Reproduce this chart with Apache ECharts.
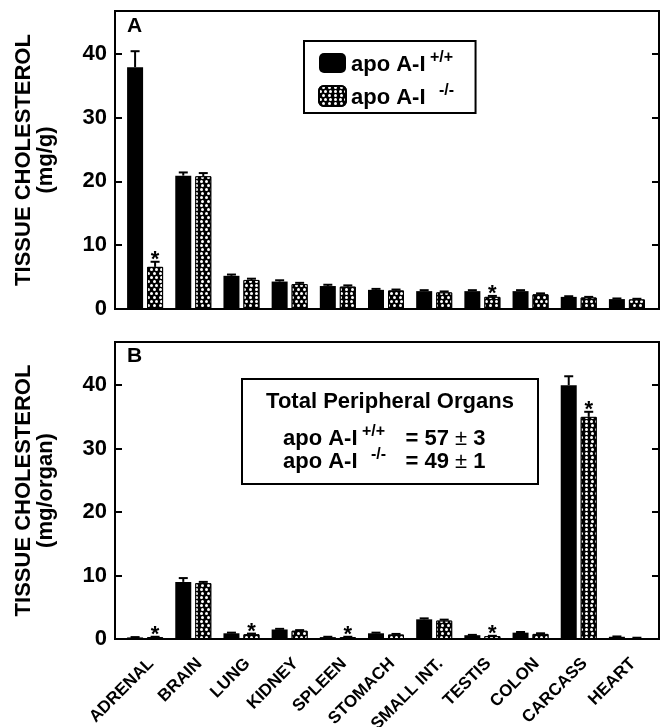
<!DOCTYPE html>
<html>
<head>
<meta charset="utf-8">
<script src="https://cdn.jsdelivr.net/npm/echarts@6/dist/echarts.min.js"></script>
<style>html,body{margin:0;padding:0;background:#fff}#c{width:661px;height:727px}</style>
</head>
<body>
<div id="c"></div>
<script>
// ---- data ----
const categories = ['ADRENAL','BRAIN','LUNG','KIDNEY','SPLEEN','STOMACH','SMALL INT.','TESTIS','COLON','CARCASS','HEART'];
const yTicks = [0, 10, 20, 30, 40];
// Panel A: tissue cholesterol (mg/g)
const A_wt     = [37.9, 20.9, 5.2, 4.3, 3.6, 3.0, 2.8, 2.8, 2.8, 1.9, 1.55];
const A_wtErr  = [2.5, 0.5, 0.2, 0.2, 0.2, 0.15, 0.15, 0.15, 0.15, 0.1, 0.1];
const A_ko     = [6.6, 20.8, 4.55, 3.9, 3.5, 2.9, 2.6, 1.9, 2.3, 1.8, 1.5];
const A_koErr  = [0.8, 0.5, 0.2, 0.2, 0.2, 0.15, 0.15, 0.15, 0.15, 0.1, 0.1];
const A_sig    = [1, 0, 0, 0, 0, 0, 0, 1, 0, 0, 0];
// Panel B: tissue cholesterol (mg/organ)
const B_wt     = [0.25, 9.0, 0.9, 1.5, 0.3, 0.9, 3.1, 0.6, 1.0, 40.0, 0.35];
const B_wtErr  = [0.05, 0.6, 0.1, 0.1, 0.05, 0.1, 0.15, 0.05, 0.1, 1.4, 0.05];
const B_ko     = [0.3, 8.8, 0.75, 1.3, 0.3, 0.7, 2.9, 0.45, 0.8, 35.0, 0.15];
const B_koErr  = [0.05, 0.2, 0.1, 0.1, 0.05, 0.1, 0.15, 0.05, 0.1, 0.8, 0.05];
const B_sig    = [1, 0, 1, 0, 1, 0, 0, 1, 0, 1, 0];

// ---- layout / style ----
const FONT = '"Liberation Sans", Arial, Helvetica, sans-serif';
const GRID_L = 121, GRID_W = 530;
const FRAME_L = 115, FRAME_R = 659;
const GA = {top: 11, height: 298, max: 46.7};
const GB = {top: 342, height: 297, max: 46.8};
const BAR_W = 16, BAR_GAP = 4, CAP = 9;

const koStyle = {
  color: '#000', borderColor: '#000', borderWidth: 1,
  decal: {symbol: 'circle', symbolSize: 1, color: '#fff',
          dashArrayX: [[3, 1.2], [0, 2.1, 3, 0]], dashArrayY: [3, 0.8], rotation: 0}
};
const wtStyle = {color: '#000'};

function errRenderer(sign) {
  return function (params, api) {
    const i = api.value(0), v = api.value(1), e = api.value(2), s = api.value(3);
    const base = api.coord([i, v]);
    const top = api.coord([i, v + e]);
    const x = base[0] + sign * (BAR_W + BAR_GAP) / 2;
    const ch = [
      {type: 'line', shape: {x1: x, y1: base[1], x2: x, y2: top[1]}, style: {stroke: '#000', lineWidth: 2}},
      {type: 'line', shape: {x1: x - CAP / 2, y1: top[1], x2: x + CAP / 2, y2: top[1]}, style: {stroke: '#000', lineWidth: 2}}
    ];
    if (s) {
      ch.push({type: 'text', style: {text: '*', x: x, y: top[1] - 2, align: 'center', verticalAlign: 'middle',
        font: 'bold 22px ' + FONT, fill: '#000'}});
    }
    return {type: 'group', children: ch};
  };
}
function errData(v, e, s) { return v.map((d, i) => [i, d, e[i], s ? s[i] : 0]); }

function yAx(gi, name, max, pos) {
  const left = pos === 'left';
  return {
    type: 'value', gridIndex: gi, position: pos, min: 0, max: max, interval: 10,
    offset: left ? (GRID_L - FRAME_L) : (FRAME_R - GRID_L - GRID_W),
    axisLine: {show: false},
    axisTick: {show: true, inside: true, length: 7, lineStyle: {color: '#000', width: 2}},
    splitLine: {show: false},
    axisLabel: {show: left, showMaxLabel: false, margin: 8, color: '#000', fontFamily: FONT, fontWeight: 'bold', fontSize: 22,
      formatter: v => (yTicks.indexOf(v) >= 0 ? String(v) : '')},
    name: left ? name : '', nameLocation: 'middle', nameRotate: 90, nameGap: 58,
    nameTextStyle: {color: '#000', fontFamily: FONT, fontWeight: 'bold', fontSize: 22, lineHeight: 22, align: 'center'}
  };
}
function xAx(gi, labels) {
  return {
    type: 'category', gridIndex: gi, data: categories,
    axisLine: {show: false}, axisTick: {show: false},
    axisLabel: {show: labels, rotate: 45, margin: 16, interval: 0, verticalAlign: 'top', color: '#000', fontFamily: FONT, fontWeight: 'bold', fontSize: 17}
  };
}

const supRich = {
  n: {fontFamily: FONT, fontWeight: 'bold', fontSize: 22, lineHeight: 26, verticalAlign: 'bottom', color: '#000'},
  s: {fontFamily: FONT, fontWeight: 'bold', fontSize: 16, lineHeight: 16, verticalAlign: 'top', color: '#000', width: 38},
  s2: {fontFamily: FONT, fontWeight: 'bold', fontSize: 16, lineHeight: 16, verticalAlign: 'top', color: '#000', width: 48},
  pm: {fontFamily: FONT, fontWeight: 'normal', fontSize: 22, lineHeight: 26, verticalAlign: 'bottom', color: '#000'}
};

const option = {
  animation: false,
  backgroundColor: '#fff',
  grid: [
    {left: GRID_L, width: GRID_W, top: GA.top, height: GA.height, outerBoundsMode: 'none', containLabel: false},
    {left: GRID_L, width: GRID_W, top: GB.top, height: GB.height, outerBoundsMode: 'none', containLabel: false}
  ],
  xAxis: [xAx(0, false), xAx(1, true)],
  yAxis: [
    yAx(0, 'TISSUE CHOLESTEROL\n(mg/g)', GA.max, 'left'),
    yAx(1, 'TISSUE CHOLESTEROL\n(mg/organ)', GB.max, 'left'),
    yAx(0, '', GA.max, 'right'),
    yAx(1, '', GB.max, 'right')
  ],
  legend: {
    data: ['wt', 'ko'], orient: 'vertical', left: 304, top: 41,
    padding: [9, 12, 4, 14], itemGap: 7, itemWidth: 27, itemHeight: 20,
    borderColor: '#000', borderWidth: 2,
    formatter: n => n === 'wt' ? '{n|apo A-I}{s| +/+}' : '{n|apo A-I}{s|   -/-}',
    textStyle: {rich: supRich}
  },
  series: [
    {name: 'wt', type: 'bar', xAxisIndex: 0, yAxisIndex: 0, data: A_wt, barWidth: BAR_W, barGap: (BAR_GAP / BAR_W * 100) + '%', itemStyle: wtStyle},
    {name: 'ko', type: 'bar', xAxisIndex: 0, yAxisIndex: 0, data: A_ko, barWidth: BAR_W, itemStyle: koStyle},
    {name: 'wtB', type: 'bar', xAxisIndex: 1, yAxisIndex: 1, data: B_wt, barWidth: BAR_W, barGap: (BAR_GAP / BAR_W * 100) + '%', itemStyle: wtStyle},
    {name: 'koB', type: 'bar', xAxisIndex: 1, yAxisIndex: 1, data: B_ko, barWidth: BAR_W, itemStyle: koStyle},
    {type: 'custom', xAxisIndex: 0, yAxisIndex: 0, data: errData(A_wt, A_wtErr), renderItem: errRenderer(-1), z: 5, encode: {x: 0, y: 1}},
    {type: 'custom', xAxisIndex: 0, yAxisIndex: 0, data: errData(A_ko, A_koErr, A_sig), renderItem: errRenderer(1), z: 5, encode: {x: 0, y: 1}},
    {type: 'custom', xAxisIndex: 1, yAxisIndex: 1, data: errData(B_wt, B_wtErr), renderItem: errRenderer(-1), z: 5, encode: {x: 0, y: 1}},
    {type: 'custom', xAxisIndex: 1, yAxisIndex: 1, data: errData(B_ko, B_koErr, B_sig), renderItem: errRenderer(1), z: 5, encode: {x: 0, y: 1}}
  ],
  graphic: [
    {type: 'rect', shape: {x: FRAME_L, y: GA.top, width: FRAME_R - FRAME_L, height: GA.height}, style: {fill: 'none', stroke: '#000', lineWidth: 2}, z: 10},
    {type: 'rect', shape: {x: FRAME_L, y: GB.top, width: FRAME_R - FRAME_L, height: GB.height}, style: {fill: 'none', stroke: '#000', lineWidth: 2}, z: 10},
    {type: 'text', left: 127, top: 16, style: {text: 'A', font: 'bold 21px ' + FONT, fill: '#000'}},
    {type: 'text', left: 127, top: 346, style: {text: 'B', font: 'bold 21px ' + FONT, fill: '#000'}},
    {type: 'rect', shape: {x: 242, y: 379, width: 296, height: 105}, style: {fill: '#fff', stroke: '#000', lineWidth: 2}, z: 10},
    {type: 'text', z: 11, style: {text: 'Total Peripheral Organs', x: 390, y: 402, align: 'center', verticalAlign: 'middle', font: 'bold 22px ' + FONT, fill: '#000'}},
    {type: 'text', z: 11, style: {text: '{n|apo A-I}{s2| +/+}{n|= 57 }{pm|±}{n| 3}', x: 283, y: 437, verticalAlign: 'middle', rich: supRich}},
    {type: 'text', z: 11, style: {text: '{n|apo A-I}{s2|   -/-}{n|= 49 }{pm|±}{n| 1}', x: 283, y: 460, verticalAlign: 'middle', rich: supRich}}
  ]
};
const chart = echarts.init(document.getElementById('c'), null, {renderer: 'canvas'});
chart.setOption(option);
</script>
</body>
</html>
